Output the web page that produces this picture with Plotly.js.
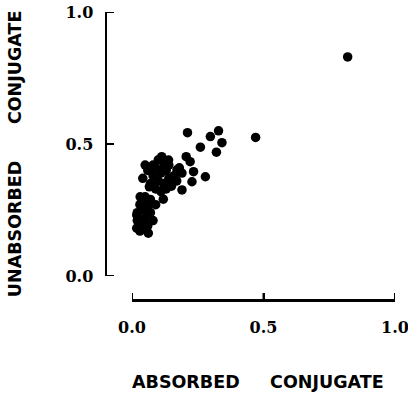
<!DOCTYPE html>
<html>
<head>
<meta charset="utf-8">
<script src="https://cdn.plot.ly/plotly-3.0.1.min.js"></script>
<style>html,body{margin:0;padding:0;background:#fff;}#chart{width:408px;height:396px;}</style>
</head>
<body>
<div id="chart"></div>
<script>
const absorbed = [0.82,0.47,0.211,0.298,0.329,0.342,0.260,0.321,0.206,0.221,0.113,0.139,0.050,0.069,0.171,0.234,0.279,0.228,0.190,0.041,0.066,0.119,0.031,0.018,0.062,0.043,0.018,
  0.10,0.12,0.09,0.11,0.13,0.08,0.10,0.12,0.14,0.16,0.15,0.07,0.09,0.11,0.13,0.17,0.19,0.18,0.06,0.08,0.12,0.14,
  0.03,0.05,0.04,0.06,0.02,0.05,0.07,0.03,0.06,0.04,0.08,0.07,0.09,0.05,0.02,0.03];
const unabsorbed = [0.83,0.525,0.543,0.528,0.550,0.505,0.488,0.469,0.452,0.433,0.452,0.439,0.420,0.402,0.402,0.395,0.376,0.357,0.326,0.370,0.338,0.291,0.300,0.181,0.162,0.212,0.231,
  0.44,0.43,0.41,0.39,0.40,0.38,0.36,0.35,0.37,0.38,0.34,0.35,0.33,0.32,0.33,0.36,0.39,0.41,0.40,0.42,0.41,0.42,
  0.27,0.28,0.25,0.26,0.24,0.22,0.24,0.20,0.19,0.18,0.21,0.29,0.27,0.30,0.21,0.17];
const tickVals = [0, 0.5, 1.0];
const tickText = ['0.0', '0.5', '1.0'];
const xTitle = 'ABSORBED\u00A0\u00A0\u00A0\u00A0\u00A0CONJUGATE';
const yTitle = 'UNABSORBED\u00A0\u00A0\u00A0\u00A0\u00A0\u00A0CONJUGATE';

const tickFont = {family: 'DejaVu Serif', size: 16, color: '#000', weight: 'bold'};
const titleFont = {family: 'DejaVu Sans', size: 17.5, color: '#000', weight: 'bold'};

const dummy = {type: 'scatter', mode: 'markers', x: [], y: [], hoverinfo: 'none', showlegend: false};

// tick marks pointing into the plot, built from the tick values
const tickShapes = [];
tickVals.forEach(function (v) {
  tickShapes.push({type: 'line', xref: 'x', yref: 'paper', ysizemode: 'pixel', yanchor: 0,
    x0: v, x1: v, y0: 0, y1: 6, line: {color: '#000', width: 2}});
  tickShapes.push({type: 'line', xref: 'paper', yref: 'y', xsizemode: 'pixel', xanchor: 0,
    x0: 0, x1: 7, y0: v, y1: v, line: {color: '#000', width: 2}});
});

Plotly.newPlot('chart', [
  {
    x: absorbed, y: unabsorbed, type: 'scatter', mode: 'markers',
    xaxis: 'x', yaxis: 'y',
    marker: {color: '#000', size: 9.5, line: {width: 0}},
    cliponaxis: false, hoverinfo: 'none'
  },
  Object.assign({}, dummy, {xaxis: 'x', yaxis: 'y2'}),
  Object.assign({}, dummy, {xaxis: 'x2', yaxis: 'y'})
], {
  width: 408, height: 396,
  margin: {l: 107, r: 13, t: 12, b: 97},
  paper_bgcolor: '#fff', plot_bgcolor: 'rgba(0,0,0,0)',
  showlegend: false,
  xaxis: {
    domain: [25/288, 1], anchor: 'y2',
    range: [0, 1], showgrid: false, zeroline: false,
    showline: true, linecolor: '#000', linewidth: 2.5,
    ticks: 'inside', ticklen: 6, tickwidth: 2, tickcolor: '#000',
    tickvals: tickVals, ticktext: tickText, tickfont: tickFont,
    ticklabelstandoff: 12, ticklabeloverflow: 'allow'
  },
  yaxis: {
    domain: [23/287, 1], anchor: 'x2',
    range: [0, 1], showgrid: false, zeroline: false,
    showline: true, linecolor: '#000', linewidth: 2.5,
    ticks: 'inside', ticklen: 7, tickwidth: 2, tickcolor: '#000',
    tickvals: tickVals, ticktext: tickText, tickfont: tickFont,
    ticklabelstandoff: 8, ticklabeloverflow: 'allow'
  },
  xaxis2: {domain: [0, 1], anchor: 'y', range: [0, 1], showgrid: false, zeroline: false, showline: false, showticklabels: false, ticks: ''},
  yaxis2: {domain: [0, 1], anchor: 'x', range: [0, 1], showgrid: false, zeroline: false, showline: false, showticklabels: false, ticks: ''},
  shapes: tickShapes,
  annotations: [
    {text: xTitle, xref: 'paper', yref: 'paper', x: 0.524, y: -0.289, xanchor: 'center', yanchor: 'middle', showarrow: false, font: titleFont},
    {text: yTitle, xref: 'paper', yref: 'paper', x: -0.319, y: 0.505, xanchor: 'center', yanchor: 'middle', textangle: -90, showarrow: false, font: titleFont}
  ]
}, {staticPlot: true});
</script>
</body>
</html>
